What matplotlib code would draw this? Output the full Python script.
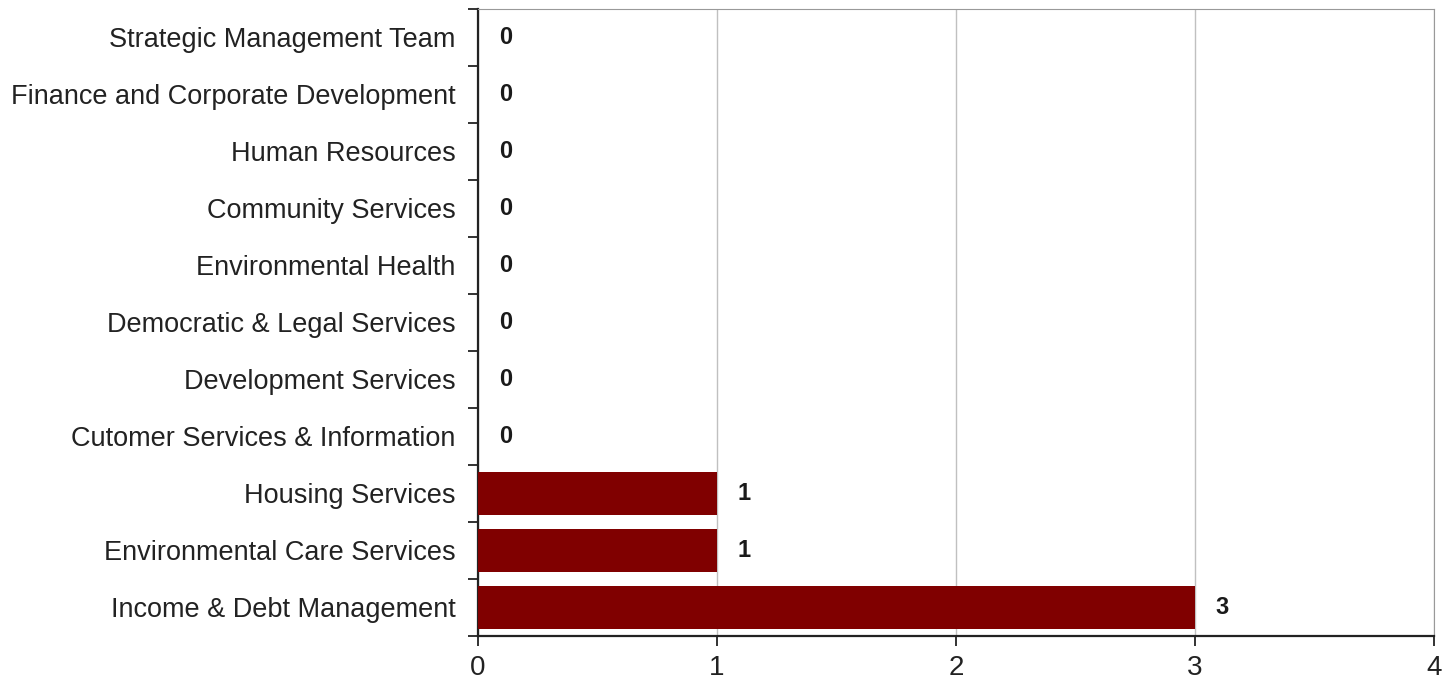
import numpy as np
import matplotlib.pyplot as plt

# Categories listed bottom to top
departments = [
    'Income & Debt Management',
    'Environmental Care Services',
    'Housing Services',
    'Cutomer Services & Information',
    'Development Services',
    'Democratic & Legal Services',
    'Environmental Health',
    'Community Services',
    'Human Resources',
    'Finance and Corporate Development',
    'Strategic Management Team',
]
counts = [3, 1, 1, 0, 0, 0, 0, 0, 0, 0, 0]
x_ticks = [0, 1, 2, 3, 4]

plt.rcParams['font.family'] = ['Liberation Sans', 'DejaVu Sans']

fig = plt.figure(figsize=(14.55, 6.86), dpi=100)
ax = fig.add_axes([0.3285, 0.0729, 0.657, 0.914])

y = np.arange(len(departments))
ax.barh(y, counts, height=0.77, color='#800000', zorder=3)

# value labels to the right of each bar
for yi, v in zip(y, counts):
    ax.text(v + 0.115, yi, str(v), va='center', ha='center', fontsize=17,
            fontweight='bold', color='#1a1a1a', zorder=4)

ax.set_xlim(0, 4)
ax.set_ylim(-0.5, len(departments) - 0.5)
ax.set_xticks(x_ticks)
ax.set_xticklabels([str(t) for t in x_ticks], fontsize=20, color='#222222')
ax.set_yticks(y)
ax.set_yticklabels(departments, fontsize=19.5, color='#222222')
ax.set_yticks(np.arange(-0.5, len(departments)), minor=True)
ax.tick_params(axis='y', which='major', length=0, pad=16)
ax.tick_params(axis='y', which='minor', length=7, width=1.3, direction='out', color='#222222')
ax.tick_params(axis='x', length=7, width=1.3, color='#222222', pad=7)

ax.xaxis.grid(True, color='#c0c0c0', linewidth=1, zorder=0)
ax.spines['top'].set_color('#999999')
ax.spines['right'].set_color('#999999')
ax.spines['left'].set_linewidth(1.6)
ax.spines['left'].set_color('#222222')
ax.spines['bottom'].set_linewidth(1.6)
ax.spines['bottom'].set_color('#222222')

fig.savefig('out.png', dpi=100)
